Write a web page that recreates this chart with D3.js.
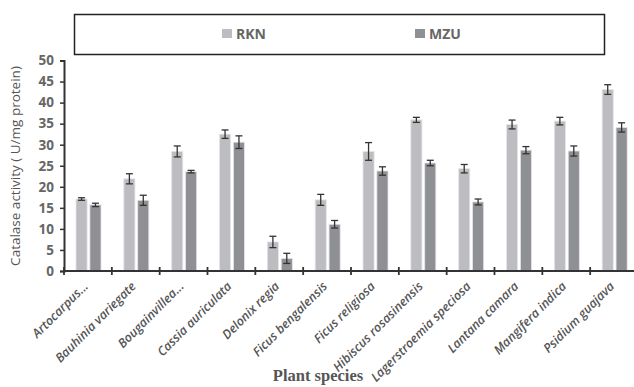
<!DOCTYPE html>
<html>
<head>
<meta charset="utf-8">
<script src="https://cdn.jsdelivr.net/npm/d3@7"></script>
<style>
  body { margin: 0; background: #fff; }
  svg { display: block; }
  .tick-y { font-family: "Open Sans", sans-serif; font-weight: bold; font-size: 13.5px; fill: #666; }
  .tick-x { font-family: "Open Sans", sans-serif; font-style: italic; font-weight: 600; font-size: 12.5px; fill: #555; }
  .axis-label { font-family: "Open Sans", sans-serif; font-size: 13.5px; fill: #555; }
  .x-title { font-family: "Liberation Serif", serif; font-weight: bold; font-size: 16.5px; fill: #555; }
  .legend-text { font-family: "Open Sans", sans-serif; font-weight: bold; font-size: 14px; fill: #666; }
</style>
</head>
<body>
<div id="chart"></div>
<script>
const species = ["Artocarpus...", "Bauhinia variegate", "Bougainvillea...", "Cassia auriculata",
  "Delonix regia", "Ficus bengalensis", "Ficus religiosa", "Hibiscus rosasinensis",
  "Lagerstroemia speciosa", "Lantana camara", "Mangifera indica", "Psidium guajava"];
const seriesNames = ["RKN", "MZU"];
const rknValues = [17.1, 21.9, 28.4, 32.5, 6.9, 16.9, 28.4, 35.9, 24.3, 34.8, 35.6, 43.1];
const rknErrors = [0.3, 1.2, 1.3, 1.0, 1.35, 1.3, 2.1, 0.6, 1.0, 1.05, 0.9, 1.15];
const mzuValues = [15.7, 16.8, 23.6, 30.6, 3.0, 11.1, 23.75, 25.65, 16.4, 28.7, 28.5, 34.1];
const mzuErrors = [0.4, 1.2, 0.3, 1.5, 1.2, 0.9, 1.0, 0.65, 0.7, 0.85, 1.2, 1.1];
const yTicks = [0, 5, 10, 15, 20, 25, 30, 35, 40, 45, 50];
const colors = ["#bdbdc1", "#8f9094"];

const data = species.map((s, i) => ({
  species: s,
  values: [
    { key: "RKN", value: rknValues[i], err: rknErrors[i] },
    { key: "MZU", value: mzuValues[i], err: mzuErrors[i] }
  ]
}));

const width = 634, height = 387;
const svg = d3.select("#chart").append("svg").attr("width", width).attr("height", height);

const x = d3.scaleBand().domain(species).range([64, 638]);
const xInner = d3.scaleBand().domain(seriesNames).range([12, 37]).paddingInner(0.2);
const y = d3.scaleLinear().domain([0, 50]).range([271, 60.5]);
const color = d3.scaleOrdinal().domain(seriesNames).range(colors);

// legend box
svg.append("rect").attr("x", 74.5).attr("y", 14.5).attr("width", 530).attr("height", 40)
  .attr("fill", "#fff").attr("stroke", "#222").attr("stroke-width", 1.5);
const legendX = [222, 415];
seriesNames.forEach((n, i) => {
  svg.append("rect").attr("x", legendX[i]).attr("y", 29).attr("width", 10).attr("height", 9).attr("fill", color(n));
  svg.append("text").attr("class", "legend-text").attr("x", legendX[i] + 14).attr("y", 38.5).text(n);
});

// bars
const groups = svg.selectAll(".group").data(data).join("g")
  .attr("class", "group")
  .attr("transform", d => `translate(${x(d.species)},0)`);

groups.selectAll("rect").data(d => d.values).join("rect")
  .attr("x", d => xInner(d.key))
  .attr("width", xInner.bandwidth())
  .attr("y", d => y(d.value))
  .attr("height", d => y(0) - y(d.value))
  .attr("fill", d => color(d.key))
  .attr("stroke", "#e6e6e8")
  .attr("stroke-width", 0.8);

// error bars
const err = groups.selectAll(".err").data(d => d.values).join("g").attr("class", "err")
  .attr("stroke", "#333").attr("stroke-width", 1.3);
const cx = d => xInner(d.key) + xInner.bandwidth() / 2;
err.append("line").attr("x1", cx).attr("x2", cx)
  .attr("y1", d => y(d.value + d.err)).attr("y2", d => y(d.value - d.err));
err.append("line").attr("x1", d => cx(d) - 3.5).attr("x2", d => cx(d) + 3.5)
  .attr("y1", d => y(d.value + d.err)).attr("y2", d => y(d.value + d.err));
err.append("line").attr("x1", d => cx(d) - 3.5).attr("x2", d => cx(d) + 3.5)
  .attr("y1", d => y(d.value - d.err)).attr("y2", d => y(d.value - d.err));

// y axis
const yAxis = svg.append("g").attr("transform", "translate(64,0)")
  .call(d3.axisLeft(y).tickValues(yTicks).tickSize(4).tickPadding(6));
yAxis.select(".domain").attr("stroke", "#333").attr("stroke-width", 2);
yAxis.selectAll(".tick line").attr("stroke", "#333").attr("stroke-width", 1.5);
yAxis.selectAll(".tick text").attr("class", "tick-y").attr("fill", null);

// x axis
svg.append("line").attr("x1", 63).attr("x2", 634).attr("y1", 271).attr("y2", 271)
  .attr("stroke", "#333").attr("stroke-width", 2);
svg.selectAll(".xtick").data(species).join("line").attr("class", "xtick")
  .attr("x1", d => x(d)).attr("x2", d => x(d))
  .attr("y1", 267).attr("y2", 275)
  .attr("stroke", "#333").attr("stroke-width", 1.8);
svg.selectAll(".xlabel").data(species).join("text").attr("class", "tick-x")
  .attr("text-anchor", "end")
  .attr("transform", d => `translate(${x(d) + x.bandwidth() / 2 + 1},${287}) rotate(-45)`)
  .text(d => d);

// axis titles
svg.append("text").attr("class", "axis-label").attr("text-anchor", "middle")
  .attr("transform", "translate(20,166) rotate(-90)")
  .text("Catalase activity ( U/mg protein)");
svg.append("text").attr("class", "x-title").attr("text-anchor", "middle")
  .attr("x", 318).attr("y", 381).text("Plant species");
</script>
</body>
</html>
